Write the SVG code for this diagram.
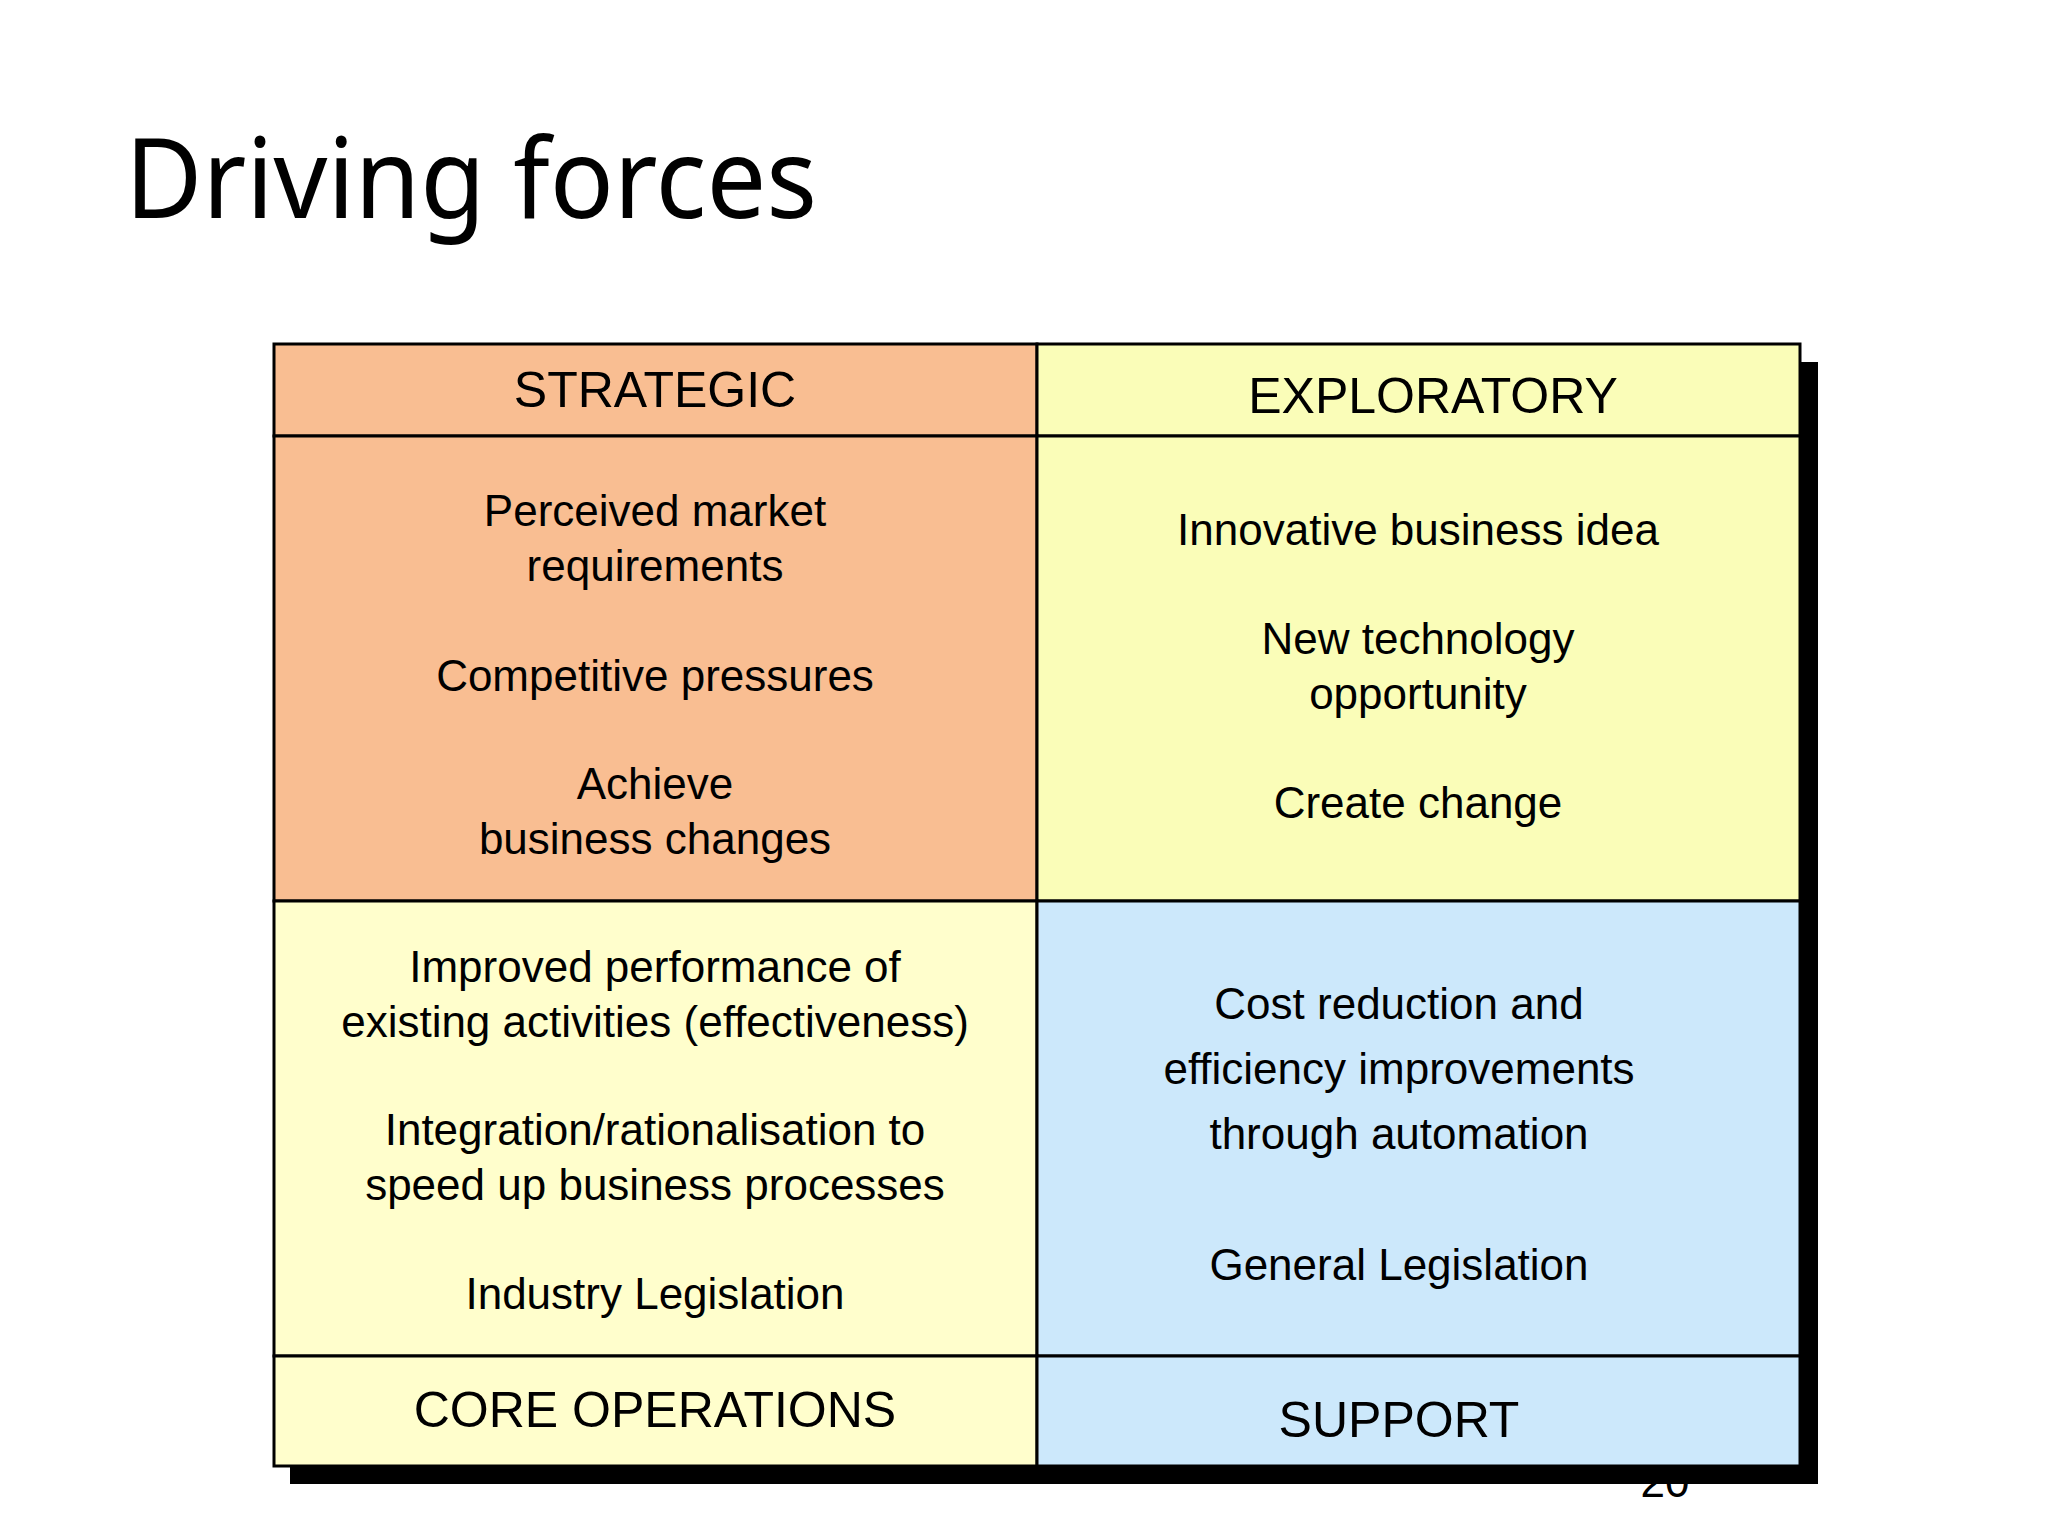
<svg xmlns="http://www.w3.org/2000/svg" width="2048" height="1536" viewBox="0 0 2048 1536">
<style>
.t{font-family:"Liberation Sans",Arial,sans-serif;font-size:44px;text-anchor:middle;fill:#000}
.h{font-size:50px}
.c{stroke:#000;stroke-width:3}
</style>
<rect width="2048" height="1536" fill="#fff"/>
<text x="125" y="218" font-family="Noto Sans,Open Sans,sans-serif" font-size="112" textLength="692" lengthAdjust="spacingAndGlyphs">Driving forces</text>
<text x="1665" y="1497" class="t">20</text>
<g id="shadow"><rect x="290" y="1466" width="1528" height="18" fill="#000"/><rect x="1800" y="362" width="18" height="1122" fill="#000"/></g>
<g id="strategic-header"><rect class="c" x="274" y="344" width="763" height="92" fill="#F9BE92"/><text class="t h" x="655" y="407">STRATEGIC</text></g>
<g id="exploratory-header"><rect class="c" x="1037" y="344" width="763" height="92" fill="#FAFDB8"/><text class="t h" x="1433" y="413">EXPLORATORY</text></g>
<g id="strategic"><rect class="c" x="274" y="436" width="763" height="465" fill="#F9BE92"/>
<text class="t" x="655" y="526">Perceived market</text><text class="t" x="655" y="581">requirements</text>
<text class="t" x="655" y="691">Competitive pressures</text>
<text class="t" x="655" y="799">Achieve</text><text class="t" x="655" y="854">business changes</text></g>
<g id="exploratory"><rect class="c" x="1037" y="436" width="763" height="465" fill="#FAFDB8"/>
<text class="t" x="1418" y="545">Innovative business idea</text>
<text class="t" x="1418" y="654">New technology</text><text class="t" x="1418" y="709">opportunity</text>
<text class="t" x="1418" y="818">Create change</text></g>
<g id="core"><rect class="c" x="274" y="901" width="763" height="455" fill="#FFFECC"/>
<text class="t" x="655" y="982">Improved performance of</text><text class="t" x="655" y="1037">existing activities (effectiveness)</text>
<text class="t" x="655" y="1145">Integration/rationalisation to</text><text class="t" x="655" y="1200">speed up business processes</text>
<text class="t" x="655" y="1309">Industry Legislation</text></g>
<g id="support"><rect class="c" x="1037" y="901" width="763" height="455" fill="#CCE8FB"/>
<text class="t" x="1399" y="1019">Cost reduction and</text><text class="t" x="1399" y="1084">efficiency improvements</text><text class="t" x="1399" y="1149">through automation</text>
<text class="t" x="1399" y="1280">General Legislation</text></g>
<g id="core-footer"><rect class="c" x="274" y="1356" width="763" height="110" fill="#FFFECC"/><text class="t h" x="655" y="1427">CORE OPERATIONS</text></g>
<g id="support-footer"><rect class="c" x="1037" y="1356" width="763" height="110" fill="#CCE8FB"/><text class="t h" x="1399" y="1437">SUPPORT</text></g>
<g id="connectors"/>
</svg>
